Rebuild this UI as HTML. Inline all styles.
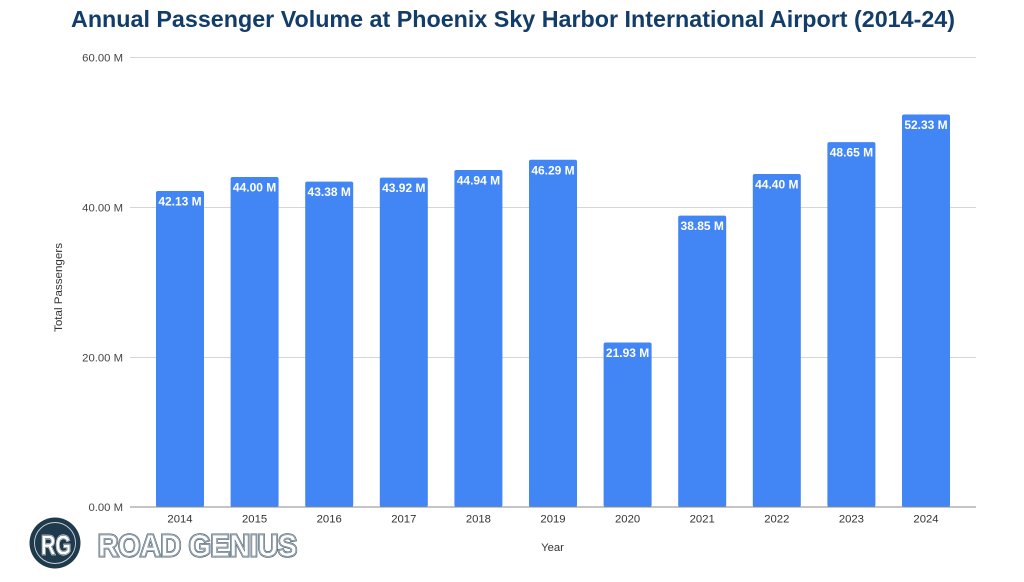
<!DOCTYPE html>
<html><head><meta charset="utf-8"><style>
html,body{margin:0;padding:0;background:#fff;}
svg{display:block;}
</style></head><body>
<svg width="1024" height="582" viewBox="0 0 1024 582" xmlns="http://www.w3.org/2000/svg" font-family="'Liberation Sans', Arial, sans-serif">
<rect width="1024" height="582" fill="#fff"/>
<text x="513" y="27" text-anchor="middle" font-size="23" font-weight="bold" fill="#123c69" textLength="884" lengthAdjust="spacingAndGlyphs">Annual Passenger Volume at Phoenix Sky Harbor International Airport (2014-24)</text>
<g stroke="#d6d6d6" stroke-width="1">
<line x1="130" y1="57.5" x2="976" y2="57.5"/>
<line x1="130" y1="207.5" x2="976" y2="207.5"/>
<line x1="130" y1="357.5" x2="976" y2="357.5"/>
</g>
<g font-size="11.3" fill="#444" text-anchor="end">
<text x="123" y="61.5">60.00 M</text>
<text x="123" y="211.5">40.00 M</text>
<text x="123" y="361.5">20.00 M</text>
<text x="123" y="511">0.00 M</text>
</g>
<text transform="translate(62,287.5) rotate(-90)" text-anchor="middle" font-size="11.3" fill="#333" textLength="89" lengthAdjust="spacingAndGlyphs">Total Passengers</text>
<g fill="#4285f4">
<rect x="156" y="191.0" width="48" height="316.0" rx="2"/>
<rect x="230.6" y="177.0" width="48" height="330.0" rx="2"/>
<rect x="305.2" y="181.65" width="48" height="325.35" rx="2"/>
<rect x="379.8" y="177.6" width="48" height="329.4" rx="2"/>
<rect x="454.4" y="169.95" width="48" height="337.05" rx="2"/>
<rect x="529" y="159.8" width="48" height="347.2" rx="2"/>
<rect x="603.6" y="342.5" width="48" height="164.5" rx="2"/>
<rect x="678.2" y="215.6" width="48" height="291.4" rx="2"/>
<rect x="752.8" y="174.0" width="48" height="333.0" rx="2"/>
<rect x="827.4" y="142.1" width="48" height="364.9" rx="2"/>
<rect x="902" y="114.5" width="48" height="392.5" rx="2"/>
</g>
<line x1="130" y1="507" x2="976" y2="507" stroke="#888" stroke-width="1"/>
<g font-size="12" font-weight="bold" fill="#fff" text-anchor="middle">
<text x="180" y="205.5">42.13 M</text>
<text x="254.6" y="191.5">44.00 M</text>
<text x="329.2" y="196.1">43.38 M</text>
<text x="403.8" y="192.1">43.92 M</text>
<text x="478.4" y="184.4">44.94 M</text>
<text x="553" y="174.3">46.29 M</text>
<text x="627.6" y="357">21.93 M</text>
<text x="702.2" y="230.1">38.85 M</text>
<text x="776.8" y="188.5">44.40 M</text>
<text x="851.4" y="156.6">48.65 M</text>
<text x="926" y="129">52.33 M</text>
</g>
<g font-size="11.3" fill="#333" text-anchor="middle">
<text x="180" y="522.5">2014</text>
<text x="254.6" y="522.5">2015</text>
<text x="329.2" y="522.5">2016</text>
<text x="403.8" y="522.5">2017</text>
<text x="478.4" y="522.5">2018</text>
<text x="553" y="522.5">2019</text>
<text x="627.6" y="522.5">2020</text>
<text x="702.2" y="522.5">2021</text>
<text x="776.8" y="522.5">2022</text>
<text x="851.4" y="522.5">2023</text>
<text x="926" y="522.5">2024</text>
</g>
<text x="552.5" y="551" text-anchor="middle" font-size="11.3" fill="#333">Year</text>
<!-- logo -->
<circle cx="55" cy="543" r="25.5" fill="#1f3a4c"/>
<circle cx="55" cy="543" r="20.5" fill="none" stroke="#c9d3da" stroke-width="0.9"/>
<text x="56" y="554.5" text-anchor="middle" font-size="28" font-weight="bold" fill="#fff" stroke="#fff" stroke-width="1.4" textLength="30" lengthAdjust="spacingAndGlyphs">RG</text>
<text x="56" y="554.5" text-anchor="middle" font-size="28" font-weight="bold" fill="none" stroke="#1f3a4c" stroke-width="0.4" textLength="30" lengthAdjust="spacingAndGlyphs">RG</text>
<g font-family="'Liberation Sans', 'DejaVu Sans', sans-serif" font-size="31" font-weight="bold">
<text x="98" y="556" fill="#fff" stroke="#55697a" stroke-width="3" textLength="199" lengthAdjust="spacingAndGlyphs">ROAD GENIUS</text>
<text x="98" y="556" fill="#fff" stroke="#fff" stroke-width="1.3" textLength="199" lengthAdjust="spacingAndGlyphs">ROAD GENIUS</text>
<text x="98" y="556" fill="none" stroke="#55697a" stroke-width="0.6" textLength="199" lengthAdjust="spacingAndGlyphs">ROAD GENIUS</text>
</g>
</svg>
</body></html>
